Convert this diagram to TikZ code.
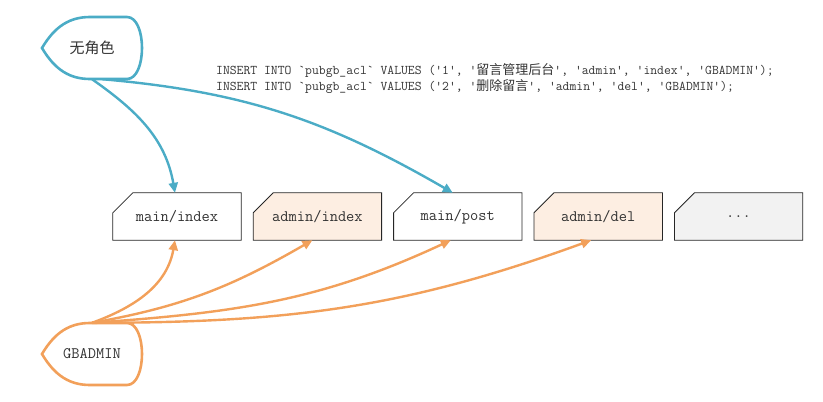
\documentclass[tikz,border=0pt]{standalone}
\usepackage{fontspec}
\newfontfamily\cjk{Noto Sans CJK SC}
\usetikzlibrary{
    positioning,
    arrows.meta,
    backgrounds
}
\definecolor{roleteal}{HTML}{4BACC6}
\definecolor{roleorange}{HTML}{F2A05A}
\definecolor{adminfill}{HTML}{FDEEE2}
\definecolor{morefill}{HTML}{F2F2F2}
\tikzset{
    >=Triangle,
    route/.style={
        rectangle,
        minimum width=128pt,
        minimum height=47pt,
        inner sep=0pt,
        font=\ttfamily\fontsize{16}{18}\selectfont,
        text=black!80
    },
    routeline/.style={
        draw=black!85,
        line width=0.8pt
    },
    rolename/.style={
        minimum width=100pt,
        minimum height=62pt,
        inner sep=0pt,
        text=black!80
    },
    grant/.style={
        -{Triangle[length=10pt,width=9pt]},
        line width=2.4pt
    },
    pics/rolecap/.style={
        code={
            \draw[line width=2.6pt]
                (-50,0) .. controls (-37,22) and (-22,31) .. (-2,31)
                -- (35,31) .. controls (55,31) and (55,-31) .. (35,-31)
                -- (-2,-31) .. controls (-22,-31) and (-37,-22) .. (-50,0)
                -- cycle;
        }
    }
}

\begin{document}
\begin{tikzpicture}[
    x=1pt,
    y=1pt
]

    \useasboundingbox (0,0) rectangle (823,-402);

    % Roles
    \node[rolename, font=\cjk\fontsize{15}{18}\selectfont] (norole)  at (92,-48)  {无角色};
    \node[rolename, font=\ttfamily\fontsize{16}{18}\selectfont] (gbadmin) at (92,-354) {GBADMIN};
    \pic[roleteal]   at (norole)  {rolecap};
    \pic[roleorange] at (gbadmin) {rolecap};

    % Resources
    \node[route]                    (mindex) at (177,-216.5) {main/index};
    \node[route, right=12pt of mindex] (aindex) {admin/index};
    \node[route, right=12pt of aindex] (mpost)  {main/post};
    \node[route, right=12pt of mpost]  (adel)   {admin/del};
    \node[route, right=12pt of adel]   (more)   {...};

    % Cut corner outlines
    \begin{scope}[on background layer]
        \foreach \r/\f in {mindex/white, aindex/adminfill, mpost/white, adel/adminfill, more/morefill}
            \draw[routeline, fill=\f]
                (\r.south west) -- ([yshift=-20pt]\r.north west)
                -- ([xshift=20pt]\r.north west) -- (\r.north east)
                -- (\r.south east) -- cycle;
    \end{scope}

    % SQL
    \node[
        anchor=north west,
        align=left,
        inner sep=0pt,
        font=\ttfamily\fontsize{13.3}{16}\selectfont,
        text=black!80
    ] (sql) at (216,-63)
    {INSERT INTO `pubgb\_acl` VALUES ('1', '{\cjk\fontsize{13}{16}\selectfont 留言管理后台}', 'admin', 'index', 'GBADMIN');\\
     INSERT INTO `pubgb\_acl` VALUES ('2', '{\cjk\fontsize{13}{16}\selectfont 删除留言}', 'admin', 'del', 'GBADMIN');};

    % No role
    \draw[grant, roleteal] (norole.south) to[out=-35, in=100] ([xshift=-2pt]mindex.north);
    \draw[grant, roleteal] ([xshift=10pt]norole.south) to[out=-5, in=150] ([xshift=-5pt]mpost.north);

    % GBADMIN
    \draw[grant, roleorange] (gbadmin.north) to[out=20, in=-100] ([xshift=-2pt]mindex.south);
    \draw[grant, roleorange] (gbadmin.north) to[out=10, in=-150] ([xshift=-5pt]aindex.south);
    \draw[grant, roleorange] (gbadmin.north) to[out=4, in=-155] ([xshift=-7pt]mpost.south);
    \draw[grant, roleorange] (gbadmin.north) to[out=0, in=-160] ([xshift=-7pt]adel.south);

\end{tikzpicture}
\end{document}
